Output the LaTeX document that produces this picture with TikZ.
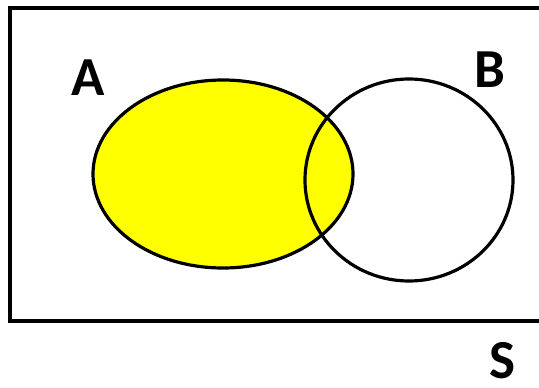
\documentclass[tikz,border=0pt]{standalone}
\usepackage{fontspec}
\setmainfont{Carlito}
\usepackage{xcolor}
\usepackage{tikz}
\usetikzlibrary{positioning}

\definecolor{setyellow}{RGB}{255,255,0}

\begin{document}
\begin{tikzpicture}[
    x=1pt, y=-1pt,
    setline/.style={draw=black, line width=3.2pt},
    setlabel/.style={font=\fontsize{55}{60}\selectfont\bfseries, inner sep=0pt}
]
\useasboundingbox (0,0) rectangle (539,388);

% universal set
\draw[line width=3.5pt] (10,8) rectangle (548,321);

% set A (shaded) and set B
\filldraw[setline, fill=setyellow] (223,174) ellipse [x radius=130, y radius=94];
\draw[setline] (409,180) ellipse [x radius=104, y radius=101];

% labels
\node[setlabel] (A) at (88,78) {A};
\node[setlabel] (B) at (490,70) {B};
\node[setlabel] (S) at (502,361) {S};

\end{tikzpicture}
\end{document}
